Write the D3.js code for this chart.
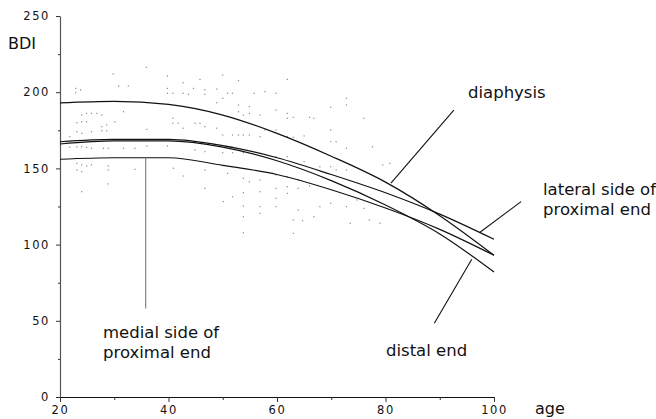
<!DOCTYPE html>
<html>
<head>
<meta charset="utf-8">
<script src="https://cdnjs.cloudflare.com/ajax/libs/d3/7.8.5/d3.min.js"></script>
<style>
  body { margin: 0; background: #fff; }
  svg { display: block; }
  text { font-family: "DejaVu Sans", sans-serif; fill: #111; }
</style>
</head>
<body>
<svg width="656" height="419"></svg>
<script>
// fitted curves, read at 10 year steps
var ages = [20, 30, 40, 50, 60, 70, 80, 90, 100];
var diaphysis = [193, 194, 192, 185, 173, 158, 141, 119, 93];
var lateral = [167.5, 169, 169, 165, 157, 146, 134, 120, 103.5];
var distal = [166, 168, 168, 164, 155, 142, 126, 107, 82];
var medial = [156, 157, 157, 152, 146, 136, 124, 110, 93];

// faint individual measurements (age, BDI)
var dotAge = [22.9, 22.9, 23.8, 29.8, 30.8, 32.6, 35.9, 39.8, 39.8, 39.8, 40.8, 42.7, 42.7, 43.7, 44.6, 45.8, 46.7, 46.7, 48.9, 48.9,
  24, 24.9, 25.8, 26.8, 27.7, 31.7, 23.1, 24, 24.9, 27.7, 28.6, 30.1, 27.7, 23.1, 24, 25.8, 28.6, 36, 40.8, 40.8,
  41.8, 42.7, 44.9, 45.8, 46.7, 48.9, 23.1, 24, 24.9, 25.8, 28, 28.9, 31.7, 33.8, 36, 39.8, 44.9, 46.7, 23.1, 24,
  24.9, 25.8, 28.9, 23.1, 24, 28.9, 33.8, 40.9, 42.7, 46.7, 24, 28.9, 46.7, 21.8, 21.8,
  50, 52.9, 61.9, 50.9, 51.8, 55.8, 57.8, 59.8, 72.8, 72.8, 69.9, 50, 52.9, 54.9, 52.9, 53.8, 54.9, 56.9, 59.8, 61.9,
  61.9, 63, 66, 66.8, 69.9, 76, 50, 51.8, 52.9, 53.8, 54.9, 56.9, 57.8, 59.8, 61.9, 63, 65, 69.9, 70.9, 72.8,
  77.6, 79.5, 80.8, 50, 51.8, 53.8, 56.9, 59.8, 61.9, 65, 67.9, 69.9, 70.9, 72.8, 50.9, 53.8, 54.9, 56.9, 59.8, 61.9,
  63.9, 59.8, 61.9, 63.9, 66, 53.8, 56.9, 59.8, 61.9, 51.8, 50.1, 53.8, 56.9, 59.8, 63.9, 67.9, 69.9, 72.8, 74.7, 76,
  77, 79, 53.8, 56.9, 63, 64.7, 66.8, 53.8, 63, 73.5];
var dotBdi = [202.5, 199.7, 201.5, 211.9, 204.1, 204.1, 216.3, 210.6, 202.5, 199.3, 199.3, 206.2, 199.3, 198.6, 202.5, 208.4, 201.5, 198.6, 202, 193.1,
  185, 186.1, 186.1, 186.1, 185, 187.2, 180, 180.6, 180.6, 177.4, 178.5, 180.6, 174.7, 174.1, 173, 174.1, 174.7, 175.6, 182.9, 179.6,
  179.6, 176.4, 179.6, 179.6, 177.4, 176.4, 164.2, 164.2, 163.8, 163.2, 163.2, 163.2, 163.2, 163.2, 164.7, 164.7, 162.1, 161, 153.3, 152.3,
  151.6, 152.3, 151.6, 149, 147.9, 149, 149.4, 150.1, 145, 149, 134.7, 139.8, 136.9, 170.8, 163.8,
  211.3, 207.6, 208.4, 199.3, 199.3, 199.3, 200.4, 199.3, 196, 191.6, 190.1, 196, 191.6, 190.6, 187.2, 185, 186.1, 185, 188.3, 186.1,
  182.9, 183.5, 183.5, 182.9, 175.2, 182.9, 171.9, 171.9, 171.9, 171.9, 171.9, 170.8, 175.2, 175.2, 170.8, 170.4, 171.3, 167.5, 167.5, 163.2,
  164.2, 152.2, 153.3, 160.3, 160.3, 160.3, 159.9, 157.7, 157.7, 154.4, 151.1, 151.1, 149, 149, 146.8, 143.5, 141.3, 142.4, 145.7, 144.6,
  142.4, 136.9, 138, 136.9, 138.5, 134.1, 134.7, 130.4, 133.6, 131.4, 128.2, 125.3, 124.9, 124.9, 122.7, 124.9, 127.1, 124.9, 129.3, 123.8,
  116.1, 114, 118.3, 120.5, 116.1, 115.7, 118.3, 107.8, 107.4, 114];

var xTicks = [20, 40, 60, 80, 100];
var xMinor = [30, 50, 70, 90];
var yTicks = [0, 50, 100, 150, 200, 250];
var yMinor = [25, 75, 125, 175, 225];

var svg = d3.select("svg");

var x = d3.scaleLinear().domain([20, 100]).range([60, 494]);
var y = d3.scaleLinear().domain([0, 250]).range([397, 16]);

// dots
svg.append("g")
  .selectAll("rect")
  .data(dotAge.map(function (a, i) { return [a, dotBdi[i]]; }))
  .enter()
  .append("rect")
  .attr("x", function (d) { return x(d[0]) - 0.6; })
  .attr("y", function (d) { return y(d[1]) - 0.6; })
  .attr("width", 1.2)
  .attr("height", 1.2)
  .attr("fill", "#8a8a8a");

// axes
var yAxis = svg.append("g")
  .attr("transform", "translate(60,0)")
  .call(d3.axisLeft(y).tickValues(yTicks).tickSize(4).tickSizeOuter(0).tickPadding(6));
svg.append("g")
  .attr("transform", "translate(60,0)")
  .call(d3.axisLeft(y).tickValues(yMinor).tickSize(2).tickSizeOuter(0).tickFormat(""))
  .select(".domain").remove();

var xAxis = svg.append("g")
  .attr("transform", "translate(0,397)")
  .call(d3.axisBottom(x).tickValues(xTicks).tickSize(5).tickSizeOuter(0).tickPadding(4));
svg.append("g")
  .attr("transform", "translate(0,397)")
  .call(d3.axisBottom(x).tickValues(xMinor).tickSize(3).tickSizeOuter(0).tickFormat(""))
  .select(".domain").remove();

svg.selectAll(".domain").attr("stroke", "#555").attr("stroke-width", 1.2);
xAxis.select(".domain").attr("stroke", "#111");
svg.selectAll(".tick line").attr("stroke", "#333");
svg.selectAll(".tick text")
  .style("font-family", "DejaVu Sans, sans-serif")
  .style("font-size", "11.5px")
  .style("letter-spacing", "1.6px")
  .attr("fill", "#111");
xAxis.selectAll(".tick text").attr("dy", "0.7em");

svg.append("text").attr("x", 8).attr("y", 49).style("font-size", "16px").text("BDI");
svg.append("text").attr("x", 535).attr("y", 414).style("font-size", "16px").text("age");

// curves
var line = d3.line()
  .x(function (d) { return x(d[0]); })
  .y(function (d) { return y(d[1]); })
  .curve(d3.curveMonotoneX);

[diaphysis, lateral, distal, medial].forEach(function (s) {
  svg.append("path")
    .datum(ages.map(function (a, i) { return [a, s[i]]; }))
    .attr("d", line)
    .attr("fill", "none")
    .attr("stroke", "#111")
    .attr("stroke-width", 1.2);
});

// pointers and labels
var pointers = [
  { from: [92.6, 188.3], to: [81, 140.3], color: "#111" },
  { from: [105, 128.2], to: [97.3, 107.8], color: "#111" },
  { from: [95.9, 90.4], to: [89, 48.4], color: "#111" },
  { from: [35.8, 157], to: [35.8, 58], color: "#777" }
];
pointers.forEach(function (p) {
  svg.append("line")
    .attr("x1", x(p.from[0])).attr("y1", y(p.from[1]))
    .attr("x2", x(p.to[0])).attr("y2", y(p.to[1]))
    .attr("stroke", p.color)
    .attr("stroke-width", 1.1);
});

var labels = [
  { x: 468, y: 98, lines: ["diaphysis"] },
  { x: 543, y: 194.5, lines: ["lateral side of", "proximal end"] },
  { x: 386, y: 355.5, lines: ["distal end"] },
  { x: 103, y: 338, lines: ["medial side of", "proximal end"] }
];
labels.forEach(function (l) {
  var t = svg.append("text").attr("x", l.x).attr("y", l.y).style("font-size", "16.5px");
  l.lines.forEach(function (s, i) {
    t.append("tspan").attr("x", l.x).attr("dy", i === 0 ? 0 : 20.3).text(s);
  });
});
</script>
</body>
</html>
